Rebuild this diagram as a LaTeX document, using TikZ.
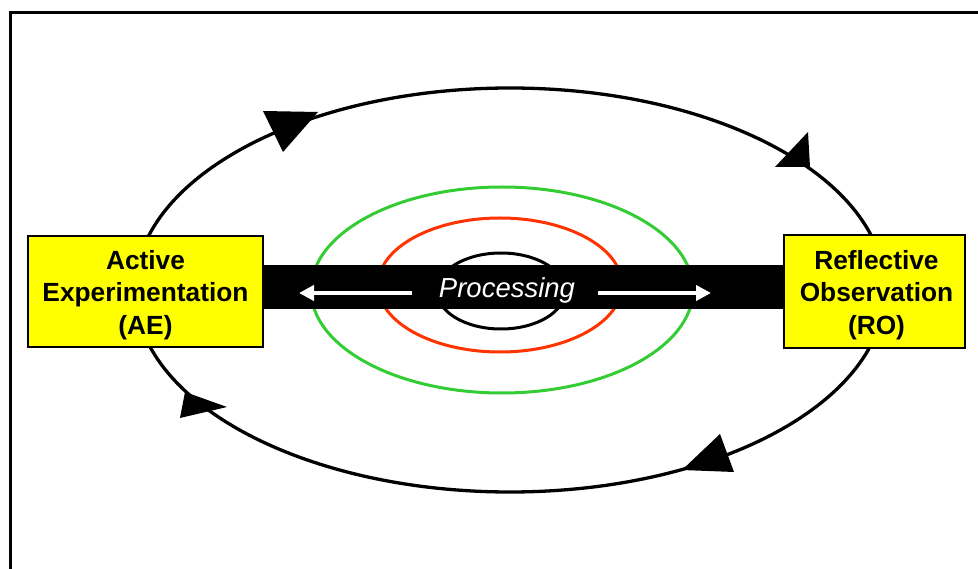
\documentclass[tikz,border=0pt]{standalone}
\usepackage{fontspec}
\setmainfont{Liberation Sans}
\usetikzlibrary{arrows.meta}
\definecolor{ringgreen}{RGB}{51,204,51}
\definecolor{ringred}{RGB}{255,51,0}
\definecolor{boxyellow}{RGB}{255,255,0}
\tikzset{
  modebox/.style={draw=black, line width=2.5pt, fill=boxyellow, inner sep=0pt},
  modetext/.style={inner sep=0pt, align=center,
    font=\fontsize{26.3}{32.5}\selectfont\bfseries},
  ring/.style={line width=3pt},
  cyclehead/.style={fill=black},
  flowarrow/.style={draw=white, line width=4.5pt,
    -{Triangle[length=15pt,width=15pt]}}
}
\begin{document}
\begin{tikzpicture}[x=1pt,y=-1pt]
  \useasboundingbox (0,0) rectangle (978,569);
  \begin{scope}
    \clip (0,0) rectangle (978,569);
    % outer frame, running off the right and bottom edges
    \draw[line width=3pt] (10.5,600) -- (10.5,12.5) -- (1000,12.5);
  \end{scope}

  % learning cycle and processing rings
  \draw[ring, black, line width=3.3pt] (510,290) ellipse [x radius=375pt, y radius=202pt];
  \draw[ring, ringgreen] (502,290) ellipse [x radius=191pt, y radius=103pt];
  \draw[ring, ringred] (500,285) ellipse [x radius=122pt, y radius=67pt];
  \draw[ring, black] (501,291) ellipse [x radius=64pt, y radius=38pt];

  % arrowheads on the cycle (clockwise)
  \fill[cyclehead] (263,111) -- (318,112) -- (283,152) -- cycle;
  \fill[cyclehead] (808,132) -- (775,167) -- (810,167) -- cycle;
  \fill[cyclehead] (720,434) -- (682,470) -- (734,472) -- cycle;
  \fill[cyclehead] (185,392) -- (227,407) -- (180,418) -- cycle;

  % the two modes
  \node[modebox, minimum width=235pt, minimum height=111pt] (AE) at (145.5,291.5) {};
  \node[modetext] (AEtext) at ([yshift=-3.5pt]AE.center)
    {Active\\Experimentation\\(AE)};
  \node[modebox, minimum width=181pt, minimum height=113pt] (RO) at (874.5,291.5) {};
  \node[modetext] (ROtext) at ([xshift=2pt,yshift=-3.5pt]RO.center)
    {Reflective\\Observation\\(RO)};

  % processing bar between the modes
  \fill[black] (AE.east |- 0,265) rectangle (RO.west |- 0,309);
  \node[text=white, font=\fontsize{27.5}{30}\selectfont\itshape, anchor=base]
    (proc) at (507,297.5) {Processing};
  \coordinate (lstart) at (412,293);
  \coordinate (lend) at (299,293);
  \coordinate (rstart) at (598,293);
  \coordinate (rend) at (711,293);
  \draw[flowarrow] (lstart) -- (lend);
  \draw[flowarrow] (rstart) -- (rend);
\end{tikzpicture}
\end{document}
